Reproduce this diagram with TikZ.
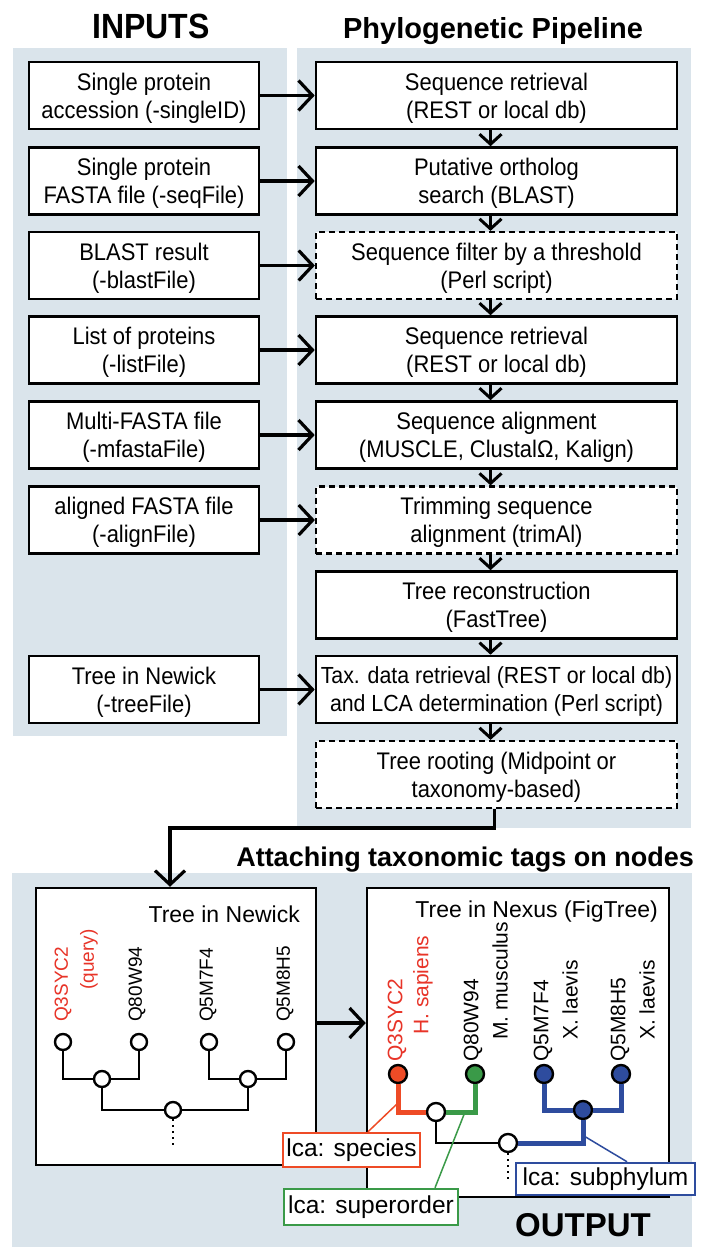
\documentclass[tikz,border=0pt]{standalone}
\usepackage{fontspec}
\setmainfont{Liberation Sans}
\newfontfamily\narrowsans{Liberation Sans}[FakeStretch=0.915]
\usetikzlibrary{arrows.meta}
\definecolor{panelc}{RGB}{218,228,235}
\definecolor{redc}{RGB}{238,75,38}
\definecolor{redt}{RGB}{232,52,40}
\definecolor{greenc}{RGB}{58,154,72}
\definecolor{bluec}{RGB}{46,76,158}
\begin{document}
\begin{tikzpicture}[x=1pt,y=-1pt,
  ibox/.style={draw,line width=2.6pt,fill=white,minimum width=230pt,minimum height=67pt,align=center,inner xsep=0pt,inner ysep=2pt,text depth=0pt,font=\narrowsans\fontsize{24}{28}\selectfont},
  pbox/.style={ibox,minimum width=361pt},
  dbox/.style={pbox,line width=2.2pt,dash pattern=on 6pt off 4pt},
  harr/.style={line width=3.2pt,-{Straight Barb[length=14pt,width=30pt]}},
  varr/.style={line width=3pt,-{Straight Barb[length=10pt,width=22pt]}},
  tbox/.style={draw,line width=2.5pt,fill=white,inner sep=0pt},
  leafL/.style={circle,draw,line width=2.4pt,fill=white,minimum size=16pt,inner sep=0pt},
  leafR/.style={circle,draw,line width=2.4pt,fill=white,minimum size=18pt,inner sep=0pt},
  treel/.style={line width=2.5pt},
  thk/.style={line width=5pt},
  dotl/.style={line width=2.2pt,dash pattern=on 2pt off 4pt},
  lblL/.style={rotate=90,anchor=west,inner sep=0pt,font=\fontsize{19}{19}\selectfont},
  lblR/.style={rotate=90,anchor=west,inner sep=0pt,font=\fontsize{21}{21}\selectfont},
  lcab/.style={fill=white,line width=2.5pt,inner sep=0pt,font=\fontsize{24.5}{24.5}\selectfont},
  callout/.style={line width=1.5pt}]
\useasboundingbox (0,0) rectangle (706,1247);
% panels
\fill[panelc] (13,48) rectangle (287,736);
\fill[panelc] (297,48) rectangle (691,828);
\fill[panelc] (12,873) rectangle (692,1247);
% titles
\node[anchor=base,inner sep=0pt,font=\narrowsans\bfseries\fontsize{35}{35}\selectfont] (tin) at (151,38) {INPUTS};
\node[anchor=base,inner sep=0pt,font=\bfseries\fontsize{29}{29}\selectfont] (tpp) at (493,38) {Phylogenetic Pipeline};
\node[anchor=base east,inner sep=0pt,font=\bfseries\fontsize{27}{27}\selectfont] (tat) at (694,866) {Attaching taxonomic tags on nodes};
% input boxes
\node[ibox] (i1) at (144,95.5) {Single protein\\accession (-singleID)};
\node[ibox] (i2) at (144,181) {Single protein\\FASTA file (-seqFile)};
\node[ibox] (i3) at (144,265.5) {BLAST result\\(-blastFile)};
\node[ibox] (i4) at (144,350) {List of proteins\\(-listFile)};
\node[ibox] (i5) at (144,435) {Multi-FASTA file\\(-mfastaFile)};
\node[ibox] (i6) at (144,520) {aligned FASTA file\\(-alignFile)};
\node[ibox] (i7) at (144,689.5) {Tree in Newick\\(-treeFile)};
% pipeline boxes
\node[pbox] (p1) at (496.5,95.5) {Sequence retrieval\\(REST or local db)};
\node[pbox] (p2) at (496.5,181) {Putative ortholog\\search (BLAST)};
\node[dbox] (p3) at (496.5,265.5) {Sequence filter by a threshold\\(Perl script)};
\node[pbox] (p4) at (496.5,350) {Sequence retrieval\\(REST or local db)};
\node[pbox] (p5) at (496.5,435) {Sequence alignment\\(MUSCLE, ClustalΩ, Kalign)};
\node[dbox] (p6) at (496.5,520) {Trimming sequence\\alignment (trimAl)};
\node[pbox] (p7) at (496.5,605) {Tree reconstruction\\(FastTree)};
\node[pbox,font=\narrowsans\fontsize{23.3}{28}\selectfont] (p8) at (496.5,689.5) {Tax. data retrieval (REST or local db)\\and LCA determination (Perl script)};
\node[dbox] (p9) at (496.5,774.5) {Tree rooting (Midpoint or\\taxonomy-based)};
% arrows
\foreach \a/\b in {i1/p1,i2/p2,i3/p3,i4/p4,i5/p5,i6/p6,i7/p8}
  \draw[harr] (\a) -- (\b);
\foreach \a/\b in {p1/p2,p2/p3,p3/p4,p4/p5,p5/p6,p6/p7,p7/p8,p8/p9}
  \draw[varr] ([xshift=-6pt]\a.south) -- ([xshift=-6pt]\b.north);
% tree boxes
\node[tbox,minimum width=280pt,minimum height=277pt] (lt) at (176,1026.5) {};
\node[tbox,minimum width=302pt,minimum height=309pt] (rt) at (518,1042.5) {};
\coordinate (bend) at (170,828);
\draw[harr] ([xshift=-2pt]p9.south) |- (bend) -- (bend |- lt.north);
\coordinate (ay) at (0,1023);
\draw[harr] (lt.east |- ay) -- (rt.west |- ay);
\node[anchor=base east,inner sep=0pt,font=\fontsize{23}{23}\selectfont] (ltt) at (300,922) {Tree in Newick};
\node[anchor=base east,inner sep=0pt,font=\fontsize{23}{23}\selectfont] (rtt) at (658,917) {Tree in Nexus (FigTree)};
% left tree
\node[leafL] (a1) at (63,1042) {};
\node[leafL] (a2) at (139,1042) {};
\node[leafL] (a3) at (209,1042) {};
\node[leafL] (a4) at (286,1042) {};
\node[leafL] (a12) at (102,1079) {};
\node[leafL] (a34) at (248,1079) {};
\node[leafL] (ar) at (173,1110) {};
\coordinate (ad) at (173,1148);
\draw[treel] (a1) |- (a12) -| (a2);
\draw[treel] (a3) |- (a34) -| (a4);
\draw[treel] (a12) |- (ar) -| (a34);
\draw[dotl] (ar) -- (ad);
\node[lblL,text=redt] (la1) at (63,1022) {Q3SYC2};
\node[lblL,text=redt] (la1b) at (89,990) {(query)};
\node[lblL] (la2) at (137,1022) {Q80W94};
\node[lblL] (la3) at (208,1022) {Q5M7F4};
\node[lblL] (la4) at (285,1022) {Q5M8H5};
% right tree
\node[leafR,fill=redc] (r1) at (398,1074) {};
\node[leafR,fill=greenc] (g1) at (475,1074) {};
\node[leafR,fill=bluec] (b1) at (544,1074) {};
\node[leafR,fill=bluec] (b2) at (621,1074) {};
\node[leafR] (w1) at (436,1112) {};
\node[leafR,fill=bluec] (bn) at (583,1110) {};
\node[leafR] (w2) at (508,1143) {};
\coordinate (rd) at (508,1183);
\draw[treel] (w1) |- (w2);
\draw[thk,redc] (r1) |- (w1);
\draw[thk,greenc] (g1) |- (w1);
\draw[thk,bluec] (b1) |- (bn) -| (b2);
\draw[thk,bluec] (bn) |- (w2);
\draw[dotl] (w2) -- (rd);
\node[lblR,text=redt] (lr1) at (397,1062) {Q3SYC2};
\node[lblR,text=redt] (lr1b) at (423,1035) {H. sapiens};
\node[lblR] (lr2) at (473,1062) {Q80W94};
\node[lblR] (lr2b) at (500,1040) {M. musculus};
\node[lblR] (lr3) at (543,1062) {Q5M7F4};
\node[lblR] (lr3b) at (570,1040) {X. laevis};
\node[lblR] (lr4) at (620,1062) {Q5M8H5};
\node[lblR] (lr4b) at (647,1040) {X. laevis};
% callouts
\coordinate (cr) at (398,1103);
\coordinate (cg) at (465,1112);
\coordinate (cb) at (584,1136);
\node[lcab,draw=redc,minimum width=137pt,minimum height=34pt] (ls) at (351.5,1150) {lca: species};
\node[lcab,draw=greenc,minimum width=174pt,minimum height=36pt] (lg) at (371,1207) {lca: superorder};
\node[lcab,draw=bluec,minimum width=179pt,minimum height=32pt] (lb) at (605.5,1179) {lca: subphylum};
\draw[callout,redc] (cr) -- ([xshift=16.5pt]ls.north);
\draw[callout,greenc] (cg) -- ([xshift=64pt]lg.north);
\draw[callout,bluec] (cb) -- ([xshift=21.5pt]lb.north);
\node[anchor=base,inner sep=0pt,font=\bfseries\fontsize{33}{33}\selectfont] (out) at (583,1236) {OUTPUT};
\end{tikzpicture}
\end{document}
